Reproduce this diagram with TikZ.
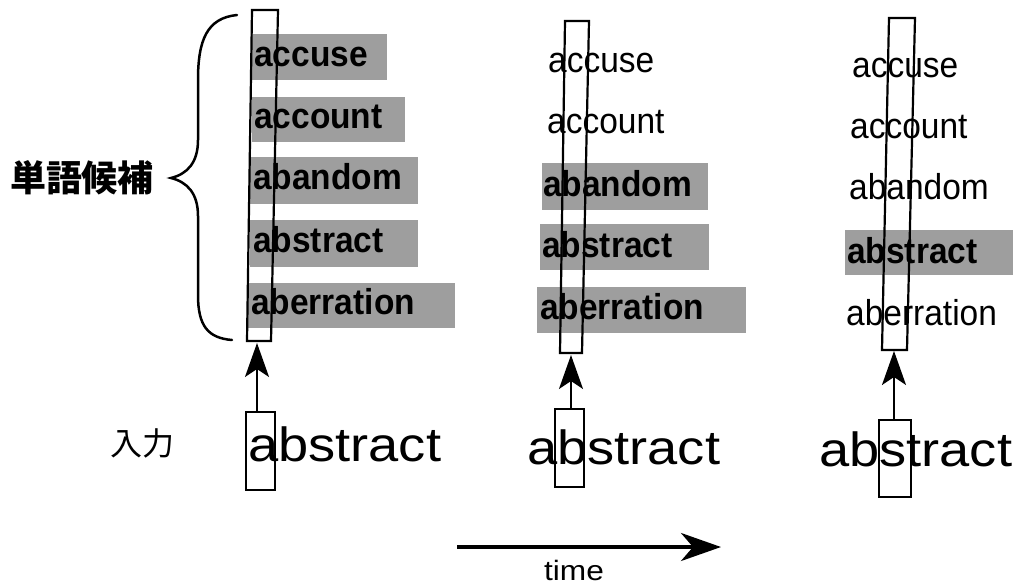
\documentclass[tikz,border=0pt]{standalone}
\usepackage{fontspec}
\setmainfont{Liberation Sans}
\newfontfamily\wordfont[FakeStretch=0.93]{Liberation Sans}
\newfontfamily\bigfont[FakeStretch=1.13]{Liberation Sans}
\newfontfamily\jpfont{Noto Sans CJK JP}
\usetikzlibrary{arrows.meta}
\begin{document}
\begin{tikzpicture}[x=1pt,y=-1pt,
  hl/.style={fill=black!38,draw=none},
  wd/.style={anchor=base west,inner sep=0pt,font=\wordfont\fontsize{36}{40}\selectfont},
  wdb/.style={anchor=base west,inner sep=0pt,font=\wordfont\fontsize{36}{40}\selectfont\bfseries},
  bigword/.style={anchor=base west,inner sep=0pt,font=\bigfont\fontsize{48}{52}\selectfont},
  tallbox/.style={draw,line width=2.2pt,line join=miter},
  inbox/.style={draw,line width=2.2pt,inner sep=0pt,minimum width=29pt,minimum height=78pt},
  colarrow/.style={line width=2pt,-{Stealth[length=34pt,width=24pt,inset=8pt]}},
  timearrow/.style={line width=3.5pt,-{Stealth[length=40pt,width=28pt,inset=12pt]}}
]
\useasboundingbox (0,0) rectangle (1021,587);

% ---------- column 1 ----------
\path[hl] (252,34) rectangle (387,80);
\path[hl] (252,97) rectangle (405,142);
\path[hl] (250,157) rectangle (418,204);
\path[hl] (250,220) rectangle (418,267);
\path[hl] (247,283) rectangle (455,328);
\node[wdb] (c1w1) at (254,66) {accuse};
\node[wdb] (c1w2) at (254,128) {account};
\node[wdb] (c1w3) at (253,189) {abandom};
\node[wdb] (c1w4) at (253,252) {abstract};
\node[wdb] (c1w5) at (251,314) {aberration};
\draw[tallbox] (252,10) -- (278,10) -- (271,341) -- (247,341) -- cycle;
\coordinate (a1) at (257,343);

% ---------- column 2 ----------
\path[hl] (542,163) rectangle (708,210);
\path[hl] (540,224) rectangle (709,270);
\path[hl] (537,287) rectangle (746,333);
\node[wd] (c2w1) at (548,72) {accuse};
\node[wd] (c2w2) at (547,133) {account};
\node[wdb] (c2w3) at (543,196) {abandom};
\node[wdb] (c2w4) at (542,257) {abstract};
\node[wdb] (c2w5) at (540,319) {aberration};
\draw[tallbox] (565,21) -- (589,21) -- (582,353) -- (560,353) -- cycle;
\coordinate (a2) at (571,355);

% ---------- column 3 ----------
\path[hl] (845,230) rectangle (1013,275);
\node[wd] (c3w1) at (852,77) {accuse};
\node[wd] (c3w2) at (850,138) {account};
\node[wd] (c3w3) at (849,199) {abandom};
\node[wdb] (c3w4) at (847,263) {abstract};
\node[wd] (c3w5) at (846,325) {aberration};
\draw[tallbox] (889,18) -- (915,18) -- (907,350) -- (882,350) -- cycle;
\coordinate (a3) at (894,351);

% ---------- brace and label ----------
\draw[line width=2.5pt,line cap=round]
  (237,15) .. controls (207,18) and (198,40) .. (198,80) -- (198,140)
  .. controls (198,163) and (187,174) .. (171,178)
  .. controls (187,182) and (198,193) .. (198,216) -- (198,295)
  .. controls (198,326) and (208,338) .. (232,340);
\node[font=\jpfont\bfseries\fontsize{36}{40}\selectfont,inner sep=0pt] (cand) at (82,178) {単語候補};

% ---------- input row ----------
\node[font=\jpfont\fontsize{32}{36}\selectfont,inner sep=0pt] (inlabel) at (142,443) {入力};
\node[bigword] (in1w) at (248,461) {abstract};
\node[bigword] (in2w) at (527,464) {abstract};
\node[bigword] (in3w) at (819,466) {abstract};
\node[inbox] (in1) at (260.5,451) {};
\node[inbox] (in2) at (569.5,448) {};
\node[inbox,minimum width=32pt,minimum height=77pt] (in3) at (895,458.5) {};
\draw[colarrow] (in1.north -| a1) -- (a1);
\draw[colarrow] (in2.north -| a2) -- (a2);
\draw[colarrow] (in3.north -| a3) -- (a3);

% ---------- time ----------
\coordinate (t1) at (457,547);
\coordinate (t2) at (721,547);
\draw[timearrow] (t1) -- (t2);
\node[anchor=base,inner sep=0pt,font=\bigfont\fontsize{28}{30}\selectfont] (time) at (574,580) {time};
\end{tikzpicture}
\end{document}
